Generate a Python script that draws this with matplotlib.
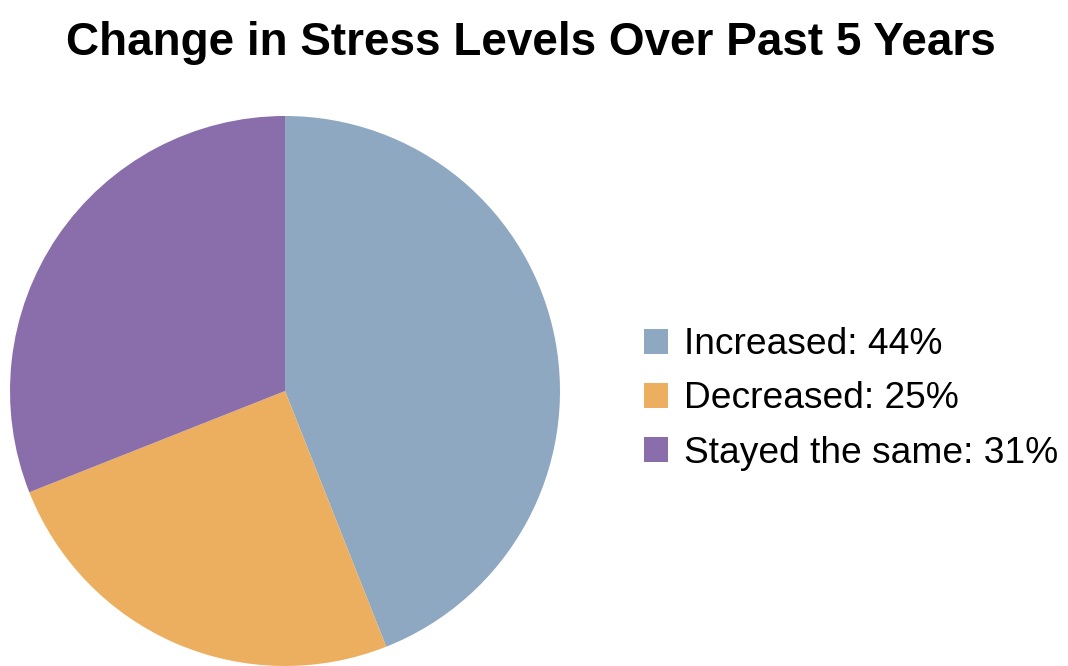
import matplotlib
matplotlib.use('Agg')
import matplotlib.pyplot as plt

plt.rcParams['font.family'] = ['Liberation Sans', 'DejaVu Sans']

labels = ['Increased', 'Decreased', 'Stayed the same']
values = [44, 25, 31]
colors = ['#8ea8c2', '#ecae5f', '#8a6eab']

fig = plt.figure(figsize=(10.68, 6.66), dpi=100)
ax = fig.add_axes([10/1068, 0/666, 550/1068, 550/666])
wedges, _ = ax.pie(values, colors=colors, startangle=90, counterclock=False,
                   radius=1.0, wedgeprops=dict(linewidth=0))
ax.set_xlim(-1, 1)
ax.set_ylim(-1, 1)
ax.set_aspect('equal')
ax.axis('off')

fig.text(531/1068, 1 - 43/666, 'Change in Stress Levels Over Past 5 Years',
         ha='center', va='center', fontsize=33, fontweight='bold')

leg_labels = [f'{l}: {v}%' for l, v in zip(labels, values)]
fig.legend(wedges, leg_labels, loc='center left', bbox_to_anchor=(644/1068, 1 - 399/666),
           frameon=False, fontsize=26.7, handlelength=0.65, handleheight=0.65,
           handletextpad=0.43, labelspacing=0.52, borderpad=0, borderaxespad=0)

fig.savefig('out.png', dpi=100)
